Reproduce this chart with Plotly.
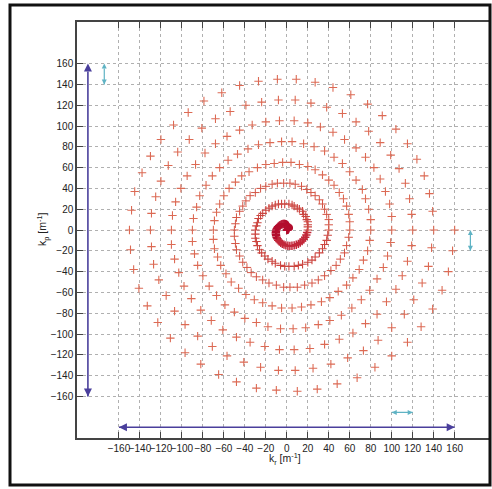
import plotly.graph_objects as go

# ---- data (k-space spiral samples, one list per turn) ----
kx_0 = [0,0.4,0.8,1.1,1.4,1.6,1.7,1.8,1.7,1.5,1.2,0.8,0.3,-0.3,-1,-1.9,-2.7,-3.6,-4.6,-5.5,-6.5,-7.4,-8.2,-8.9,-9.5,-10,-10.3,-10.5,-10.4,-10.2,-9.7,-9,-8.2,-7.1,-5.8,-4.3,-2.7,-0.9,1,2.9,4.9,7,9,11,12.8,14.6,16.1,17.5,18.6,19.4]
ky_0 = [0,0.1,0.2,0.4,0.8,1.2,1.6,2.2,2.7,3.3,3.8,4.3,4.8,5.2,5.5,5.7,5.8,5.7,5.5,5.2,4.7,4,3.2,2.3,1.2,0,-1.3,-2.7,-4.1,-5.6,-7.1,-8.5,-9.9,-11.1,-12.3,-13.3,-14.1,-14.8,-15.2,-15.3,-15.2,-14.8,-14.2,-13.3,-12,-10.6,-8.9,-6.9,-4.8,-2.5]
kx_1 = [20,20,20,20,19,18,16,15,12,10,7,5,2,-2,-5,-8,-11,-14,-17,-20,-23,-25,-27,-28,-29,-30,-30,-30,-29,-28,-26,-24,-21,-18,-14,-11,-6,-2,2,7,11,15,20,24,27,31,34,36,38,39]
ky_1 = [0,3,5,8,10,13,15,18,20,21,23,24,25,25,25,25,24,23,21,19,16,14,11,7,4,0,-4,-8,-11,-15,-19,-22,-25,-28,-30,-32,-34,-35,-35,-35,-34,-33,-31,-29,-26,-22,-18,-14,-10,-5]
kx_2 = [40,40,40,38,36,34,31,27,23,19,14,8,3,-3,-9,-14,-20,-25,-30,-35,-39,-42,-45,-48,-49,-50,-50,-49,-48,-45,-42,-38,-34,-29,-23,-17,-10,-3,3,10,17,24,30,36,42,47,51,55,57,59]
ky_2 = [0,5,10,15,20,25,29,33,36,39,42,44,45,45,45,44,42,40,36,33,28,23,18,12,6,0,-6,-13,-19,-25,-31,-36,-41,-45,-48,-51,-53,-55,-55,-55,-53,-51,-48,-44,-39,-34,-28,-22,-15,-7]
kx_3 = [60,60,59,57,54,50,45,40,34,27,20,12,4,-4,-12,-20,-28,-36,-43,-49,-55,-60,-64,-67,-69,-70,-70,-69,-66,-63,-58,-53,-46,-39,-31,-23,-14,-5,5,14,23,33,41,49,57,63,69,73,77,79]
ky_3 = [0,8,15,23,30,36,43,48,53,58,61,63,65,65,64,63,60,56,52,46,40,33,25,17,9,0,-9,-18,-26,-34,-42,-50,-56,-62,-67,-70,-73,-75,-75,-74,-72,-69,-65,-59,-53,-46,-38,-29,-20,-10]
kx_4 = [80,80,78,75,72,66,60,53,45,36,26,16,5,-5,-16,-27,-37,-47,-56,-64,-71,-77,-83,-86,-89,-90,-90,-88,-85,-80,-74,-67,-59,-50,-40,-29,-18,-6,6,18,30,41,52,62,71,79,86,92,96,99]
ky_4 = [0,10,20,30,39,48,56,64,70,76,80,83,85,85,84,82,78,73,67,60,52,43,33,22,11,0,-11,-23,-34,-44,-54,-63,-72,-79,-85,-89,-93,-95,-95,-94,-91,-87,-82,-75,-67,-58,-47,-36,-25,-12]
kx_5 = [100,100,98,94,89,83,75,66,55,44,32,20,7,-7,-20,-33,-45,-57,-68,-78,-87,-95,-101,-106,-109,-110,-110,-107,-103,-98,-91,-82,-72,-61,-48,-35,-21,-7,7,22,36,50,63,75,86,95,104,110,115,119]
ky_5 = [0,13,25,37,49,60,70,79,87,94,99,103,105,105,104,101,96,90,83,74,63,52,40,27,14,0,-14,-28,-41,-54,-66,-77,-87,-96,-103,-108,-112,-115,-115,-114,-110,-105,-99,-90,-81,-69,-57,-44,-30,-15]
kx_6 = [120,119,117,113,107,99,89,78,66,53,38,23,8,-8,-24,-39,-54,-68,-81,-93,-104,-113,-120,-125,-129,-130,-129,-127,-122,-115,-107,-97,-85,-71,-57,-41,-25,-8,8,25,42,58,73,87,100,112,121,129,135,138]
ky_6 = [0,15,30,45,59,72,84,95,104,112,118,122,125,125,123,120,114,107,98,87,75,62,47,32,16,0,-16,-33,-48,-63,-78,-91,-102,-112,-121,-127,-132,-135,-135,-133,-129,-123,-116,-106,-94,-81,-67,-51,-35,-17]
kx_7 = [140,139,136,131,124,115,104,91,77,61,44,27,9,-9,-27,-45,-62,-79,-94,-108,-120,-130,-138,-145,-148,-150,-149,-146,-141,-133,-123,-111,-97,-82,-65,-48,-29,-10,10,29,48,67,84,100,115,128,139,148,154,158,160]
ky_7 = [0,18,35,52,68,83,97,110,121,130,137,142,145,145,143,139,132,124,113,101,87,71,55,37,19,0,-19,-38,-56,-73,-89,-104,-118,-129,-139,-146,-152,-154,-155,-153,-148,-142,-132,-121,-108,-93,-76,-58,-40,-20,0]

tick_values = [-160,-140,-120,-100,-80,-60,-40,-20,0,20,40,60,80,100,120,140,160]
axis_range_x = [-200, 193.2]
axis_range_y = [-200, 200]
x_title = "k<sub>r</sub> [m<sup>-1</sup>]"
y_title = "k<sub>p</sub> [m<sup>-1</sup>]"

# double-headed arrows (data coordinates): start point and end point
span_arrow_x = [(-189.6, -189.6), (-160, 160)]
span_arrow_y = [(-160, 160), (-189.6, -189.6)]
step_arrow_x = [(-174, -174), (175, 175), (100, 120)]
step_arrow_y = [(140, 160), (-20, 0), (-175.4, -175.4)]

turn_x = [kx_0, kx_1, kx_2, kx_3, kx_4, kx_5, kx_6, kx_7]
turn_y = [ky_0, ky_1, ky_2, ky_3, ky_4, ky_5, ky_6, ky_7]

fig = go.Figure()
for t, (tx, ty) in enumerate(zip(turn_x, turn_y)):
    if t == 0:
        col = ["#b30e2e" if i < 32 else "#c2283a" for i in range(len(tx))]
        lw = 1.5
    elif t == 1:
        col, lw = "#cc4640", 1.1
    elif t == 2:
        col, lw = "#d45646", 1.0
    else:
        col, lw = "#dc6a54", 1.1
    fig.add_trace(go.Scatter(
        x=tx, y=ty, mode="markers",
        marker=dict(symbol="cross-thin", size=6, color=col,
                    line=dict(color=col, width=lw)),
        showlegend=False, hoverinfo="skip"))

PURPLE = "#4a3f9c"
CYAN = "#5fb3c4"

def add_double_arrow(xs, ys, color, width, head):
    vertical = xs[0] == xs[1]
    if vertical:
        syms = ["arrow-down", "arrow-up"] if ys[0] < ys[1] else ["arrow-up", "arrow-down"]
    else:
        syms = ["arrow-left", "arrow-right"] if xs[0] < xs[1] else ["arrow-right", "arrow-left"]
    fig.add_trace(go.Scatter(
        x=list(xs), y=list(ys), mode="lines+markers",
        line=dict(color=color, width=width),
        marker=dict(symbol=syms, size=head, color=color, line=dict(width=0)),
        showlegend=False, hoverinfo="skip", cliponaxis=False))

for xs, ys in zip(span_arrow_x, span_arrow_y):
    add_double_arrow(xs, ys, PURPLE, 1.6, 8)
for xs, ys in zip(step_arrow_x, step_arrow_y):
    add_double_arrow(xs, ys, CYAN, 1.2, 5)

# paper area = the picture's black frame (px 10..490 x 5..485)
PX0, PX1, PY0, PY1 = 10, 490, 5, 485
def px_to_paper_x(px):
    return (px - PX0) / (PX1 - PX0)
def px_to_paper_y(py):
    return (PY1 - py) / (PY1 - PY0)

fig.add_shape(type="rect", xref="paper", yref="paper", x0=0, x1=1, y0=0, y1=1,
              line=dict(color="#111111", width=3), layer="above")

axis_font = dict(family="Liberation Sans, Arial, sans-serif", size=10, color="#222222")
common = dict(tickmode="array", tickvals=tick_values, ticks="inside", ticklen=6, tickwidth=1.2,
              tickcolor="#444444", showgrid=True, gridcolor="#b0b0b0", griddash="dot", gridwidth=1,
              zeroline=False, showline=True, linecolor="#444444", linewidth=1.5,
              tickfont=axis_font, automargin=False, tickangle=0)

fig.update_xaxes(range=axis_range_x, mirror="ticks",
                 domain=[px_to_paper_x(77), px_to_paper_x(489.5)], **common)
fig.update_yaxes(range=axis_range_y, mirror=False,
                 domain=[px_to_paper_y(438), px_to_paper_y(22)], **common)

fig.add_annotation(text=x_title, xref="paper", yref="paper",
                   x=px_to_paper_x(285), y=px_to_paper_y(469), showarrow=False,
                   font=dict(family="Liberation Sans, Arial, sans-serif", size=10.5, color="#222222"))
fig.add_annotation(text=y_title, xref="paper", yref="paper", textangle=-90,
                   x=px_to_paper_x(33), y=px_to_paper_y(230), showarrow=False,
                   font=dict(family="Liberation Sans, Arial, sans-serif", size=10.5, color="#222222"))

fig.update_layout(width=492, height=489,
                  margin=dict(l=PX0, r=492 - PX1, t=PY0, b=489 - PY1, autoexpand=False),
                  paper_bgcolor="white", plot_bgcolor="white")

fig.write_html("out.html", config={"displayModeBar": False},
               post_script="document.body.style.margin='0px';document.body.style.padding='0px';"
                           "document.body.style.overflow='hidden';")
